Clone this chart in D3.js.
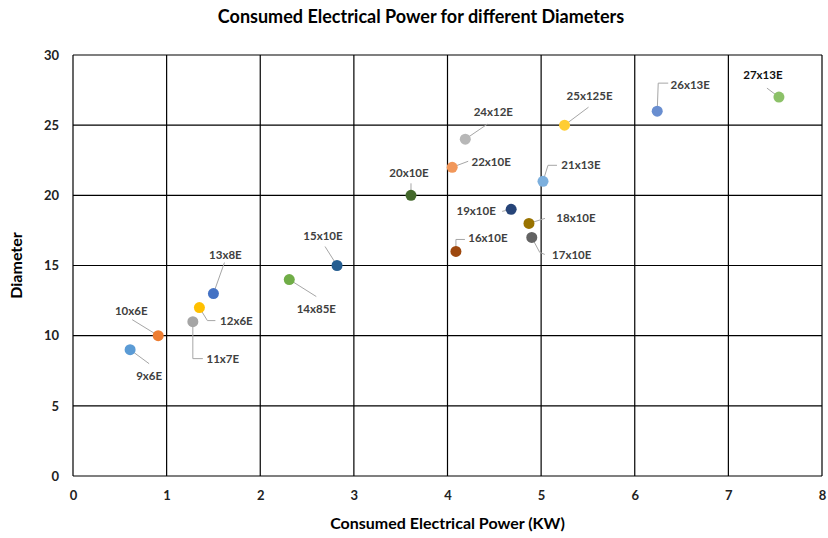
<!DOCTYPE html>
<html>
<head>
<meta charset="utf-8">
<script src="https://cdn.jsdelivr.net/npm/d3@7"></script>
<style>
  body { margin: 0; background: #fff; }
  text { font-family: Lato, "Open Sans", sans-serif; }
</style>
</head>
<body>
<svg id="chart" width="828" height="538"></svg>
<script>
// data
const names = ["9x6E", "10x6E", "11x7E", "12x6E", "13x8E", "14x85E", "15x10E", "16x10E", "17x10E",
               "18x10E", "19x10E", "20x10E", "21x13E", "22x10E", "24x12E", "25x125E", "26x13E", "27x13E"];
const power = [0.61, 0.91, 1.28, 1.35, 1.50, 2.31, 2.82, 4.09, 4.90,
               4.87, 4.68, 3.61, 5.02, 4.05, 4.19, 5.25, 6.24, 7.54];
const diameter = [9, 10, 11, 12, 13, 14, 15, 16, 17, 18, 19, 20, 21, 22, 24, 25, 26, 27];
const colors = ["#5B9BD5", "#ED7D31", "#A5A5A5", "#FFC000", "#4472C4", "#70AD47", "#255E91", "#9E480E", "#636363",
                "#997300", "#264478", "#43682B", "#7CAFDD", "#F1975A", "#B7B7B7", "#FFCD33", "#698ED0", "#8CC168"];
const xTicks = [0, 1, 2, 3, 4, 5, 6, 7, 8];
const yTicks = [0, 5, 10, 15, 20, 25, 30];

// label placement: text offset and leader path, px relative to the point
const labelLayout = [
  {dx: 19, dy: 26, path: [[0, 0], [19, 14]]},
  {dx: -27, dy: -25, path: [[0, 0], [-26, -16]]},
  {dx: 30, dy: 37, path: [[0, 0], [0, 37], [10, 37]]},
  {dx: 37, dy: 13, path: [[0, 0], [8, 13], [16, 13]]},
  {dx: 12, dy: -39, path: [[0, 0], [11, -31]]},
  {dx: 27, dy: 29, path: [[0, 0], [27, 17]]},
  {dx: -14, dy: -30, path: [[0, 0], [-12, -19]]},
  {dx: 32, dy: -13, path: [[0, 0], [0, -12], [9, -12]]},
  {dx: 40, dy: 18, path: [[0, 0], [8, 15], [13, 17]]},
  {dx: 47, dy: -5, path: [[0, 0], [16, -5]]},
  {dx: -35, dy: 2, path: [[0, 0], [-9, 2]]},
  {dx: -2, dy: -22, path: [[0, 0], [0, -12]]},
  {dx: 38, dy: -16, path: [[0, 0], [5, -16], [14, -16]]},
  {dx: 39, dy: -5, path: [[0, 0], [16, -6]]},
  {dx: 28, dy: -27, path: [[0, 0], [22, -15]]},
  {dx: 25, dy: -29, path: [[0, 0], [24, -18]]},
  {dx: 33, dy: -26, path: [[0, 0], [1, -28], [11, -28]]},
  {dx: -16, dy: -22, path: [[0, 0], [-12, -9]]}
];

const data = names.map((n, i) => ({name: n, x: power[i], y: diameter[i], color: colors[i], lab: labelLayout[i]}));

const margin = {left: 73, right: 6, top: 55, bottom: 62};
const W = 828, H = 538;
const svg = d3.select("#chart");

const x = d3.scaleLinear().domain([0, 8]).range([margin.left, W - margin.right]);
const y = d3.scaleLinear().domain([0, 30]).range([H - margin.bottom, margin.top]);

// title
svg.append("text")
    .attr("x", 421).attr("y", 23)
    .attr("text-anchor", "middle")
    .style("font-size", "18px").style("font-weight", "bold").style("fill", "#000")
    .text("Consumed Electrical Power for different Diameters");

// grid
const grid = svg.append("g");
grid.selectAll("line.v")
    .data(xTicks)
    .join("line")
        .attr("class", "v")
        .attr("x1", d => x(d)).attr("x2", d => x(d))
        .attr("y1", y(0)).attr("y2", y(30))
        .style("stroke", "#000").style("stroke-width", 1.2);
grid.selectAll("line.h")
    .data(yTicks)
    .join("line")
        .attr("class", "h")
        .attr("x1", x(0)).attr("x2", x(8))
        .attr("y1", d => y(d)).attr("y2", d => y(d))
        .style("stroke", "#000").style("stroke-width", 1.2);

// axes (labels only)
const xAxis = svg.append("g")
    .attr("transform", `translate(0,${y(0) + 11})`)
    .call(d3.axisBottom(x).tickValues(xTicks).tickSize(0).tickPadding(4));
const yAxis = svg.append("g")
    .attr("transform", `translate(${x(0) - 10},0)`)
    .call(d3.axisLeft(y).tickValues(yTicks).tickSize(0).tickPadding(4));
[xAxis, yAxis].forEach(a => {
    a.select(".domain").remove();
    a.selectAll("text")
        .style("font-family", "Lato, sans-serif")
        .style("font-size", "13px").style("font-weight", "bold").style("fill", "#222");
});

// axis titles
svg.append("text")
    .attr("x", (x(0) + x(8)) / 2).attr("y", 529)
    .attr("text-anchor", "middle")
    .style("font-size", "16px").style("font-weight", "bold").style("fill", "#000")
    .text("Consumed Electrical Power (KW)");
svg.append("text")
    .attr("transform", `translate(22,${(y(0) + y(30)) / 2}) rotate(-90)`)
    .attr("text-anchor", "middle")
    .style("font-size", "16px").style("font-weight", "bold").style("fill", "#000")
    .text("Diameter");

// leader lines
const line = d3.line();
svg.append("g")
    .selectAll("path")
    .data(data)
    .join("path")
        .attr("d", d => line(d.lab.path.map(p => [x(d.x) + p[0], y(d.y) + p[1]])))
        .style("fill", "none").style("stroke", "#a6a6a6").style("stroke-width", 1);

// points
svg.append("g")
    .selectAll("circle")
    .data(data)
    .join("circle")
        .attr("cx", d => x(d.x))
        .attr("cy", d => y(d.y))
        .attr("r", 5.5)
        .style("fill", d => d.color);

// labels
svg.append("g")
    .selectAll("text")
    .data(data)
    .join("text")
        .attr("x", d => x(d.x) + d.lab.dx)
        .attr("y", d => y(d.y) + d.lab.dy)
        .attr("dy", "0.35em")
        .attr("text-anchor", "middle")
        .style("font-size", "11.5px").style("font-weight", "bold")
        .style("fill", d => d.name === "27x13E" ? "#111" : "#404040")
        .text(d => d.name);
</script>
</body>
</html>
